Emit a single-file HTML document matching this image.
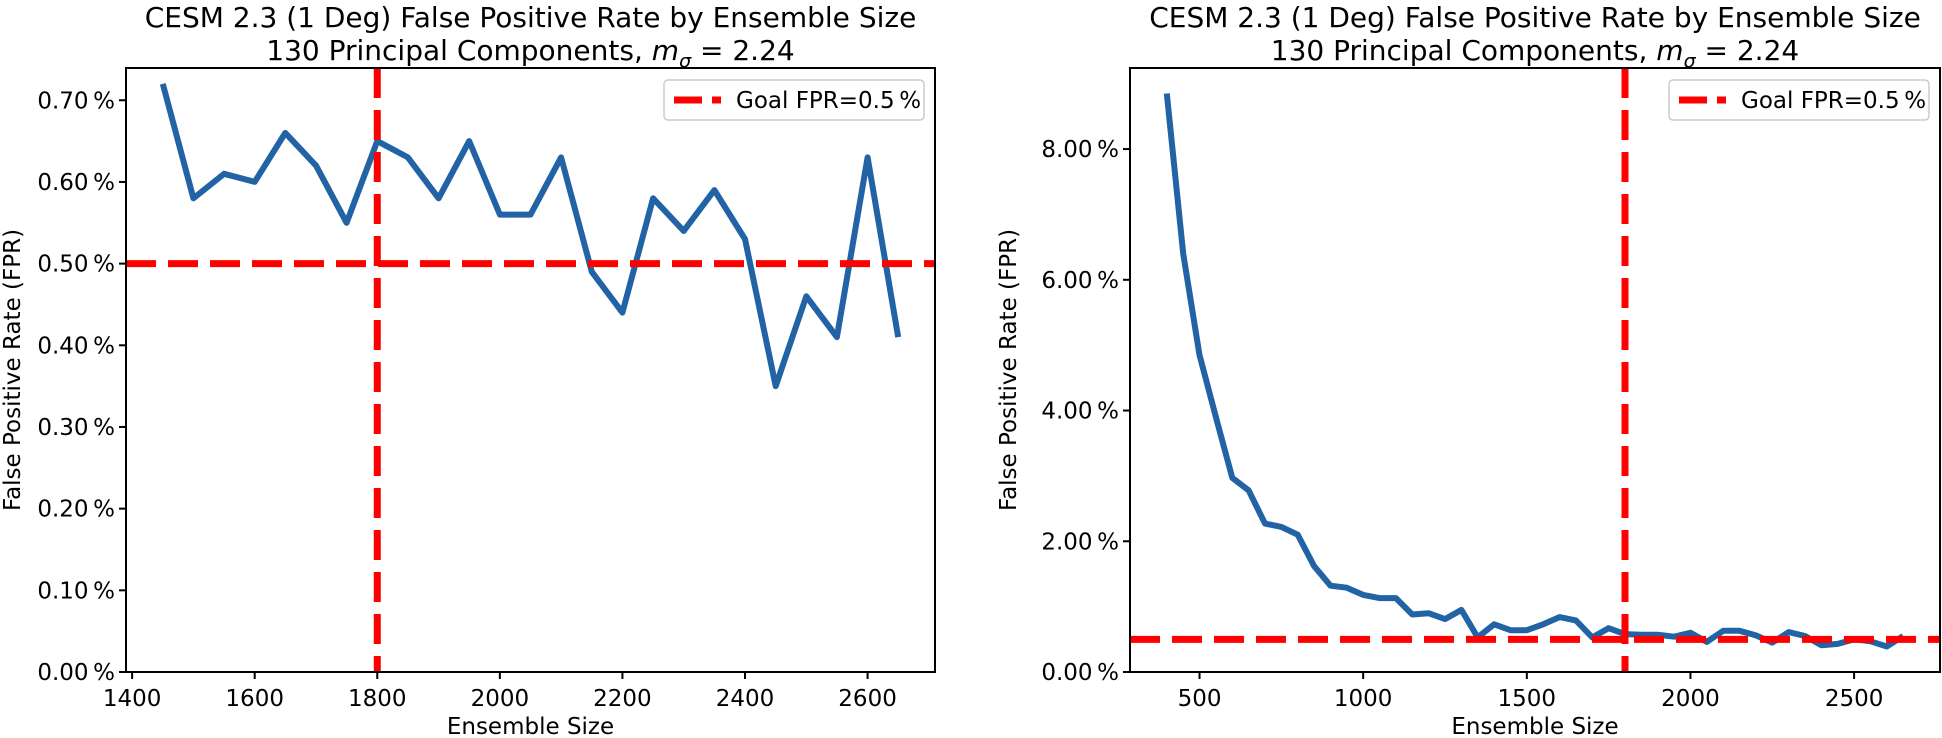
<!DOCTYPE html>
<html><head><meta charset="utf-8">
<style>
html,body{margin:0;padding:0;background:#fff;}
svg{display:block;font-family:"DejaVu Sans","Liberation Sans",sans-serif;}
</style></head>
<body>
<svg id="chart" width="1942" height="738" viewBox="0 0 1942 738"></svg>
<script>
const leftSizes = [1450,1500,1550,1600,1650,1700,1750,1800,1850,1900,1950,2000,2050,2100,2150,2200,2250,2300,2350,2400,2450,2500,2550,2600,2650];
const leftFpr = [0.72,0.58,0.61,0.60,0.66,0.62,0.55,0.65,0.63,0.58,0.65,0.56,0.56,0.63,0.49,0.44,0.58,0.54,0.59,0.53,0.35,0.46,0.41,0.63,0.41];
const rightSizes = [400,450,500,550,600,650,700,750,800,850,900,950,1000,1050,1100,1150,1200,1250,1300,1350,1400,1450,1500,1550,1600,1650,1700,1750,1800,1850,1900,1950,2000,2050,2100,2150,2200,2250,2300,2350,2400,2450,2500,2550,2600,2650];
const rightFpr = [8.85,6.4,4.85,3.9,2.97,2.78,2.27,2.22,2.1,1.62,1.32,1.29,1.18,1.13,1.13,0.88,0.9,0.81,0.95,0.53,0.73,0.64,0.64,0.73,0.84,0.79,0.53,0.67,0.58,0.57,0.57,0.54,0.6,0.46,0.63,0.63,0.56,0.45,0.61,0.55,0.41,0.43,0.5,0.47,0.39,0.55];
const leftXTicks = [1400,1600,1800,2000,2200,2400,2600];
const leftYTicks = [0,0.1,0.2,0.3,0.4,0.5,0.6,0.7];
const rightXTicks = [500,1000,1500,2000,2500];
const rightYTicks = [0,2,4,6,8];
const goalFpr = 0.5;
const chosenSize = 1800;

const NS = "http://www.w3.org/2000/svg";
const svg = document.getElementById('chart');
function mk(tag, attrs, parent){
  const e = document.createElementNS(NS, tag);
  for (const k in attrs) e.setAttribute(k, attrs[k]);
  (parent||svg).appendChild(e);
  return e;
}
function panel(cfg){
  const g = mk('g', {});
  
  
  const {x0,x1,y0,y1,xmin,xmax,ymin,ymax} = cfg;
  const sx = v => x0 + (v - xmin) / (xmax - xmin) * (x1 - x0);
  const sy = v => y1 - (v - ymin) / (ymax - ymin) * (y1 - y0);
  const cx = (x0 + x1) / 2;
  const t1 = mk('text', {x:cx, y:27, 'text-anchor':'middle', 'font-size':28, fill:'#000'}, g);
  t1.textContent = 'CESM 2.3 (1 Deg) False Positive Rate by Ensemble Size';
  
  
  const t2 = mk('text', {x:cx, y:60, 'text-anchor':'middle', 'font-size':28, fill:'#000'}, g);
  t2.innerHTML = '130 Principal Components, <tspan font-style="italic">m</tspan><tspan font-style="italic" font-size="19" dy="7">σ</tspan><tspan dy="-7"> = 2.24</tspan>';
  
  
  let d = '';
  cfg.xs.forEach((v,i)=>{ d += (i?'L':'M') + sx(v).toFixed(1) + ',' + sy(cfg.ys[i]).toFixed(1); });
  const clip = mk('clipPath', {id:cfg.name+'-clip'}, g);
  mk('rect', {x:x0, y:y0, width:x1-x0, height:y1-y0}, clip);
  const line = mk('path', {d:d, fill:'none', stroke:'#2163a5', 'stroke-width':6, 'stroke-linejoin':'round', 'clip-path':'url(#'+cfg.name+'-clip)'}, g);
  
  
  const hl = mk('line', {x1:x0, x2:x1, y1:sy(goalFpr), y2:sy(goalFpr), stroke:'#ff0000', 'stroke-width':7, 'stroke-dasharray':'30 12'}, g);
  
  
  const vl = mk('line', {x1:sx(chosenSize), x2:sx(chosenSize), y1:y0, y2:y1, stroke:'#ff0000', 'stroke-width':7, 'stroke-dasharray':'30 12'}, g);
  
  
  const box = mk('rect', {x:x0, y:y0, width:x1-x0, height:y1-y0, fill:'none', stroke:'#000', 'stroke-width':2}, g);
  
  
  cfg.xticks.forEach(v=>{
    const x = sx(v);
    mk('line', {x1:x, x2:x, y1:y1, y2:y1+7, stroke:'#000', 'stroke-width':2}, g);
    const t = mk('text', {x:x, y:y1+34, 'text-anchor':'middle', 'font-size':23, fill:'#000'}, g);
    t.textContent = v;
    
    
  });
  cfg.yticks.forEach(v=>{
    const y = sy(v);
    mk('line', {x1:x0-7, x2:x0, y1:y, y2:y, stroke:'#000', 'stroke-width':2}, g);
    const t = mk('text', {x:x0-11, y:y+8, 'text-anchor':'end', 'font-size':23, fill:'#000'}, g);
    t.textContent = v.toFixed(2) + '\u2009%';
    
    
  });
  const xl = mk('text', {x:cx, y:734, 'text-anchor':'middle', 'font-size':23, fill:'#000'}, g);
  xl.textContent = 'Ensemble Size';
  
  
  const yl = mk('text', {x:0, y:0, 'text-anchor':'middle', 'font-size':23, fill:'#000', transform:'translate('+cfg.ylx+','+((y0+y1)/2)+') rotate(-90)'}, g);
  yl.textContent = 'False Positive Rate (FPR)';
  
  
  const lg = mk('g', {}, g);
  
  
  const lx = x1 - 271, ly = y0 + 12;
  mk('rect', {x:lx, y:ly, width:260, height:40, rx:4, fill:'#fff', stroke:'#ccc', 'stroke-width':1.5}, lg);
  mk('line', {x1:lx+10, x2:lx+57, y1:ly+20, y2:ly+20, stroke:'#ff0000', 'stroke-width':7, 'stroke-dasharray':'28 10'}, lg);
  const lt = mk('text', {x:lx+72, y:ly+28, 'font-size':23, fill:'#000'}, lg);
  lt.textContent = 'Goal FPR=0.5\u2009%';
  
  
}
panel({name:'left-panel', x0:126, x1:935, y0:68, y1:672, xmin:1390, xmax:2710, ymin:0, ymax:0.7395,
  xs:leftSizes, ys:leftFpr, xticks:leftXTicks, yticks:leftYTicks, ylx:20});
panel({name:'right-panel', x0:1130, x1:1940, y0:68, y1:672, xmin:287.5, xmax:2762.5, ymin:0, ymax:9.24,
  xs:rightSizes, ys:rightFpr, xticks:rightXTicks, yticks:rightYTicks, ylx:1016});
</script>
</body></html>
